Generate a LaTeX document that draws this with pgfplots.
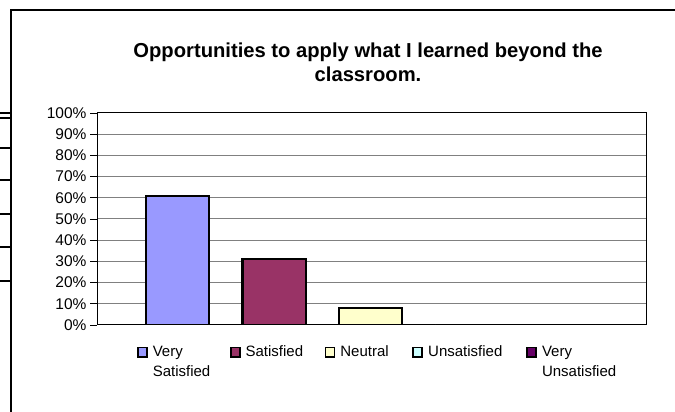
\documentclass[border=0pt]{standalone}
\usepackage{fontspec}
\setmainfont{Liberation Sans}
\usepackage{pgfplots}
\pgfplotsset{compat=1.18}
\definecolor{vs}{HTML}{9999FF}
\definecolor{sa}{HTML}{993366}
\definecolor{ne}{HTML}{FFFFCC}
\definecolor{un}{HTML}{CCFFFF}
\definecolor{vu}{HTML}{660066}
\definecolor{gridgray}{HTML}{808080}
\begin{document}
\begin{tikzpicture}[x=1pt,y=1pt]
\useasboundingbox (0,0) rectangle (675,412);
\fill[white] (0,0) rectangle (675,412);
\draw[line width=1.2pt] (11,0) -- (11,402) -- (675,402);
\foreach \yy in {113,118,148,180,214,247,281} \draw[line width=2.2pt] (0,412-\yy) -- (10,412-\yy);
\node[anchor=base, font=\bfseries\fontsize{20.2}{24}\selectfont] at (368,354.5) {Opportunities to apply what I learned beyond the};
\node[anchor=base, font=\bfseries\fontsize{20.2}{24}\selectfont] at (368,330) {classroom.};
\begin{axis}[
 at={(97pt,87pt)}, anchor=south west,
 scale only axis, width=549.5pt, height=212pt,
 xmin=-0.834, xmax=4.855, ymin=0, ymax=100,
 xtick=\empty, ytick={0,10,...,100},
 yticklabel={\pgfmathprintnumber{\tick}\%},
 /pgf/number format/assume math mode=true,
 ymajorgrids, grid style={gridgray, line width=1pt},
 axis line style={black, line width=1pt},
 ytick pos=left, tick align=outside, major tick length=7pt,
 tick style={black, line width=0.8pt},
 ticklabel style={font=\fontsize{15.5}{18}\selectfont},
 ybar, bar width=0.655, bar shift=0pt,
 legend style={at={(0.0728,-0.097)}, anchor=north west, draw=none, fill=none,
   inner sep=0pt, outer sep=0pt, row sep=0pt,
   cells={anchor=base west},
   nodes={inner sep=0pt, font=\fontsize{15}{20}\selectfont},
   /tikz/every odd column/.append style={column sep=5pt}},
 legend columns=5,
 legend image code/.code={\draw[#1, line width=1.8pt, draw=black] (0.5pt,-0.5pt) rectangle (9.5pt,9pt);},
]
\addplot[fill=vs, draw=black, line width=2.2pt, bar shift=0pt] coordinates {(0,61)};
\addlegendentry{\parbox[t]{77pt}{Very\\Satisfied}}
\addplot[fill=sa, draw=black, line width=2.2pt, bar shift=0pt] coordinates {(1,31)};
\addlegendentry{\parbox[t]{79pt}{Satisfied}}
\addplot[fill=ne, draw=black, line width=2.2pt, bar shift=0pt] coordinates {(2,8)};
\addlegendentry{\parbox[t]{72pt}{Neutral}}
\addplot[fill=un, draw=black, line width=2.2pt, bar shift=0pt] coordinates {(3,0)};
\addlegendentry{\parbox[t]{98pt}{Unsatisfied}}
\addplot[fill=vu, draw=black, line width=2.2pt, bar shift=0pt] coordinates {(4,0)};
\addlegendentry{\parbox[t]{90pt}{Very\\Unsatisfied}}
\end{axis}
\end{tikzpicture}
\end{document}
